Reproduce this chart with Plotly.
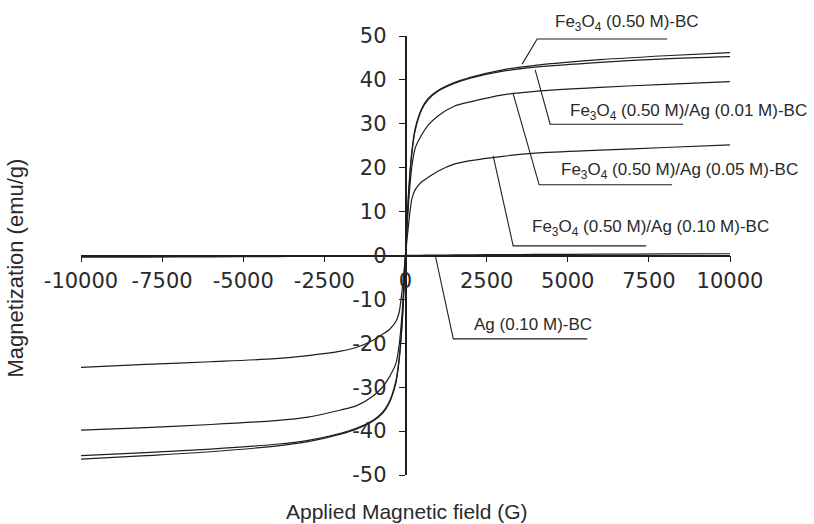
import plotly.graph_objects as go

# ---------------- data ----------------
field = [-10000, -8000, -6000, -4000, -3000, -2000, -1500, -1000, -700, -500, -300, -200, -100, 0,
         100, 200, 300, 500, 700, 1000, 1500, 2000, 3000, 4000, 6000, 8000, 10000]

m_fe3o4_bc = [-46.4, -45.6, -44.7, -43.4, -42.4, -40.7, -39.5, -37.7, -35.9, -33.6, -29.2, -24.2, -15.2, 0.0,
              15.0, 24.0, 29.0, 33.5, 35.8, 37.6, 39.4, 40.6, 42.3, 43.3, 44.6, 45.5, 46.2]
m_ag001 = [-45.6, -44.9, -44.1, -43.0, -42.1, -40.5, -39.3, -37.5, -35.6, -33.3, -28.7, -23.7, -14.6, 0.0,
           14.5, 23.5, 28.5, 33.2, 35.5, 37.4, 39.2, 40.4, 42.0, 42.9, 44.0, 44.8, 45.3]
m_ag005 = [-39.8, -39.2, -38.5, -37.6, -36.8, -35.2, -34.2, -32.0, -29.9, -27.7, -24.7, -20.7, -12.6, 0.0,
           12.5, 20.5, 24.5, 27.5, 29.7, 31.8, 34.0, 35.0, 36.6, 37.4, 38.3, 39.0, 39.6]
m_ag010 = [-25.5, -24.8, -24.2, -23.5, -22.8, -21.8, -20.9, -19.3, -17.9, -16.9, -15.1, -13.1, -7.6, 0.0,
           7.5, 13.0, 15.0, 16.8, 17.8, 19.2, 20.8, 21.6, 22.6, 23.3, 24.0, 24.6, 25.2]
m_ag_bc = [-0.4, -0.35, -0.3, -0.25, -0.2, -0.15, -0.12, -0.1, -0.08, -0.06, -0.04, -0.03, -0.02, 0.0,
           0.02, 0.03, 0.04, 0.06, 0.08, 0.1, 0.12, 0.15, 0.2, 0.25, 0.3, 0.35, 0.4]

series_names = ["Fe<sub>3</sub>O<sub>4</sub> (0.50 M)-BC",
                "Fe<sub>3</sub>O<sub>4</sub> (0.50 M)/Ag (0.01 M)-BC",
                "Fe<sub>3</sub>O<sub>4</sub> (0.50 M)/Ag (0.05 M)-BC",
                "Fe<sub>3</sub>O<sub>4</sub> (0.50 M)/Ag (0.10 M)-BC",
                "Ag (0.10 M)-BC"]
series_values = [m_fe3o4_bc, m_ag001, m_ag005, m_ag010, m_ag_bc]

x_ticks = [-10000, -7500, -5000, -2500, 0, 2500, 5000, 7500, 10000]
x_ticktext = ["-10000", "-7500", "-5000", "-2500", "0", "2500", "5000", "7500", "10000"]
y_ticks = [-50, -40, -30, -20, -10, 0, 10, 20, 30, 40, 50]
y_ticktext = ["-50", "-40", "-30", "-20", "-10", "0", "10", "20", "30", "40", "50"]

# leader lines: [curve point, elbow, end of underline] (data units)
leader_paths = [
    [(3595, 43.6), (4057, 49.3), (8062, 49.3)],
    [(3996, 42.3), (4458, 29.9), (8555, 29.9)],
    [(3318, 36.8), (4119, 16.1), (8216, 16.1)],
    [(2702, 22.7), (3318, 2.2), (7415, 2.2)],
    [(918, 0.0), (1473, -19.0), (5601, -19.0)],
]
# label anchors (left, middle) in data units
label_pos = [(4547, 52.9), (5012, 32.7), (4735, 19.3), (3842, 6.3), (2055, -15.8)]

x_range = [-10000, 10000]
y_range = [-50, 50]

# ---------------- figure ----------------
line_color = "#1e1e1e"
text_color = "#2a2a2a"
font_family = "Arial, Liberation Sans, sans-serif"
tick_family = "DejaVu Sans, sans-serif"

fig = go.Figure()
for name, vals in zip(series_names, series_values):
    fig.add_trace(go.Scatter(x=field, y=vals, mode="lines", name=name,
                             line=dict(color=line_color, width=1.2, shape="spline", smoothing=0.8),
                             showlegend=False, hoverinfo="skip"))

for path in leader_paths:
    d = "M {} {} L {} {} L {} {}".format(path[0][0], path[0][1], path[1][0], path[1][1],
                                         path[2][0], path[2][1])
    fig.add_shape(type="path", path=d, xref="x", yref="y",
                  line=dict(color=line_color, width=1.1))

for name, (lx, ly) in zip(series_names, label_pos):
    # paper coordinates so labels outside the axis range still show
    px = (lx - x_range[0]) / (x_range[1] - x_range[0])
    py = (ly - y_range[0]) / (y_range[1] - y_range[0])
    fig.add_annotation(x=px, y=py, xref="paper", yref="paper", text=name, showarrow=False,
                       xanchor="left", yanchor="middle",
                       font=dict(family=font_family, size=17, color=text_color))

fig.add_annotation(x=0.5026, y=-0.084, xref="paper", yref="paper",
                   text="Applied Magnetic field (G)", showarrow=False,
                   xanchor="center", yanchor="middle",
                   font=dict(family=font_family, size=21, color=text_color))
fig.add_annotation(x=-0.101, y=0.4715, xref="paper", yref="paper",
                   text="Magnetization (emu/g)", showarrow=False, textangle=-90,
                   xanchor="center", yanchor="middle",
                   font=dict(family=font_family, size=22, color=text_color))

fig.update_layout(
    width=814, height=524, autosize=False,
    margin=dict(l=81, r=84, t=36, b=49, pad=0),
    paper_bgcolor="white", plot_bgcolor="white",
    font=dict(family=font_family, color=text_color),
    xaxis=dict(range=x_range, anchor="free", position=0.5,
               showline=True, linecolor=line_color, linewidth=1.6,
               ticks="outside", ticklen=6, tickwidth=1.3, tickcolor=line_color,
               tickvals=x_ticks, ticktext=x_ticktext,
               tickfont=dict(size=21, color=text_color, family=tick_family),
               showgrid=False, zeroline=False),
    yaxis=dict(range=y_range, anchor="free", position=0.5,
               showline=True, linecolor=line_color, linewidth=1.6,
               ticks="outside", ticklen=6, tickwidth=1.3, tickcolor=line_color,
               tickvals=y_ticks, ticktext=y_ticktext, ticklabelstandoff=8,
               tickfont=dict(size=21, color=text_color, family=tick_family),
               showgrid=False, zeroline=False),
)

fig.write_html("out.html", config={"displayModeBar": False},
               post_script="document.body.style.margin='0';document.body.style.overflow='hidden';")
